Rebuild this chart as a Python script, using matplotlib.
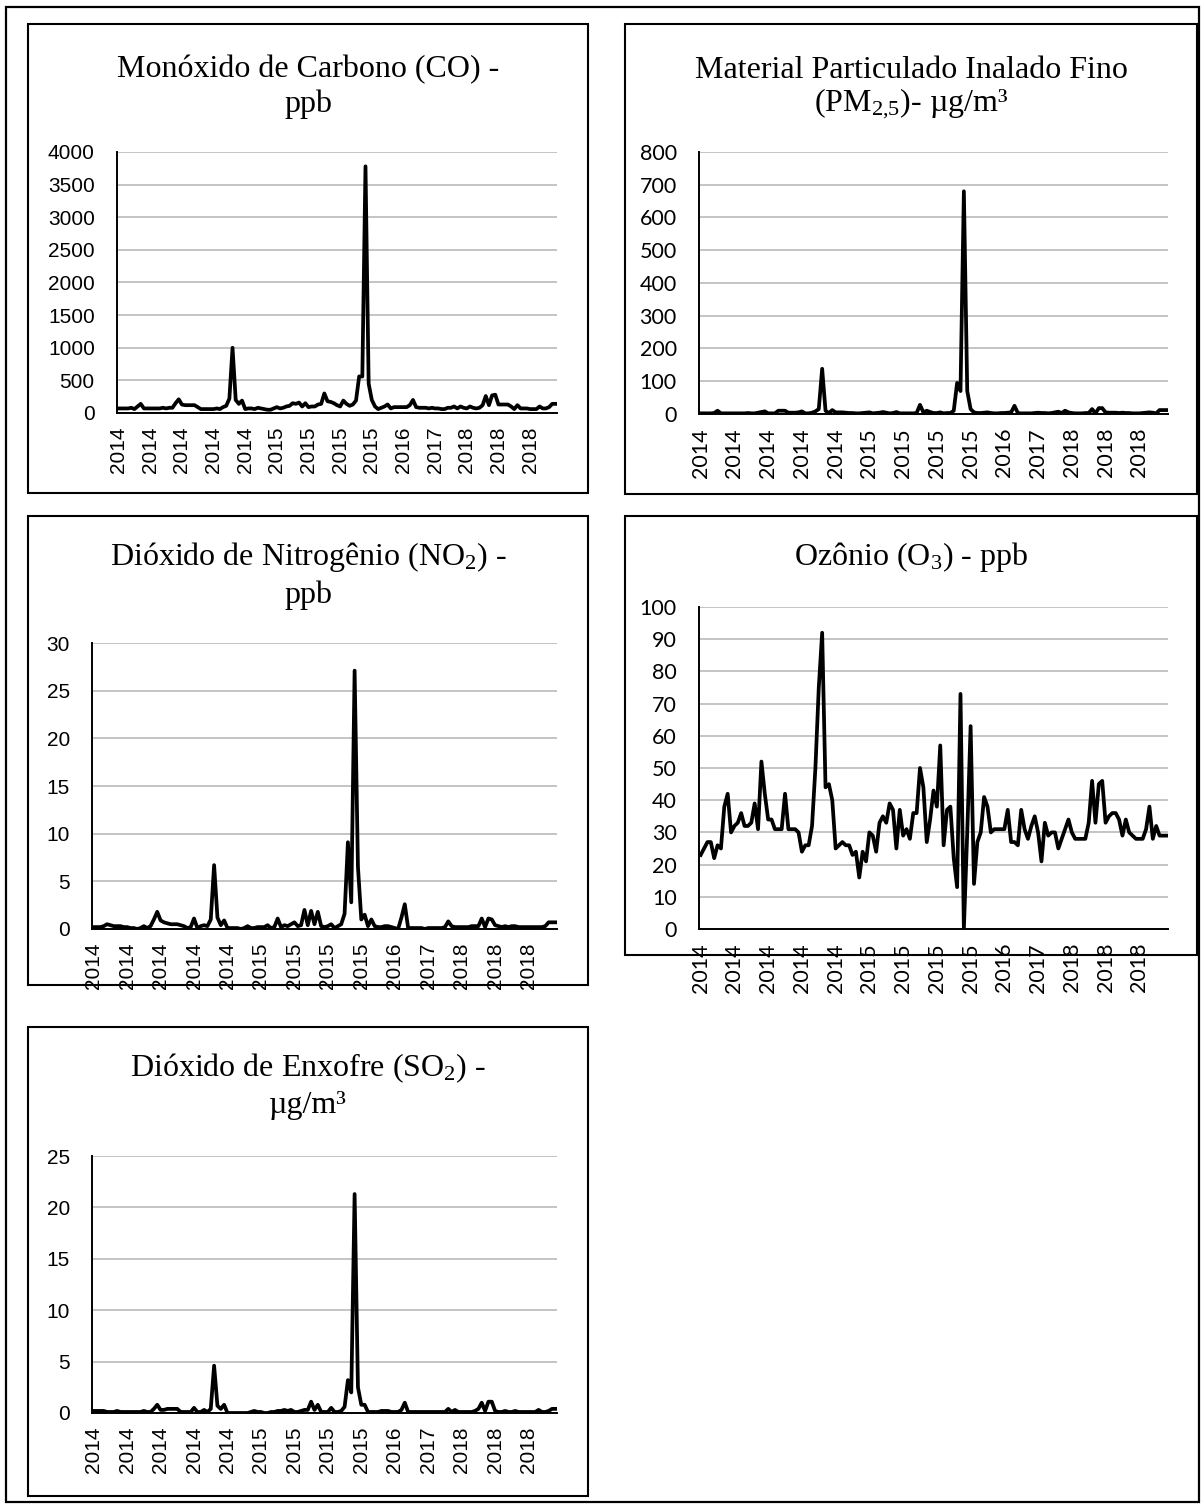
import matplotlib.pyplot as plt
from matplotlib.patches import Rectangle

plt.rcParams['mathtext.fontset'] = 'custom'
plt.rcParams['mathtext.rm'] = 'Liberation Serif'
plt.rcParams['mathtext.it'] = 'Liberation Serif:italic'

# categories (one per sample, labels every 10 samples)
n_pts = 139
tick_pos = list(range(0, n_pts, 10))
tick_labels = ['2014'] * 5 + ['2015'] * 4 + ['2016', '2017'] + ['2018'] * 3

co = [70, 70, 70, 70, 80, 60, 100, 140, 70, 70,
      70, 70, 70, 70, 80, 70, 80, 80, 150, 210,
      130, 120, 120, 120, 120, 90, 60, 60, 60, 60,
      60, 70, 60, 90, 110, 220, 1000, 200, 140, 190,
      60, 70, 70, 60, 80, 70, 60, 50, 50, 70,
      90, 70, 80, 100, 110, 150, 140, 160, 100, 150,
      90, 100, 100, 130, 140, 300, 180, 170, 150, 120,
      100, 190, 140, 110, 130, 190, 560, 560, 3780, 450,
      200, 100, 60, 80, 100, 130, 70, 90, 90, 90,
      90, 90, 120, 200, 90, 80, 80, 80, 70, 80,
      70, 70, 60, 60, 80, 80, 100, 70, 100, 80,
      70, 100, 80, 70, 80, 120, 260, 120, 270, 280,
      130, 130, 130, 130, 100, 60, 120, 70, 70, 70,
      60, 60, 60, 100, 70, 70, 90, 140, 140]

pm25 = [2, 2, 2, 2, 3, 10, 2, 2, 2, 2,
        2, 2, 2, 2, 3, 2, 2, 4, 6, 8,
        2, 2, 2, 10, 10, 10, 4, 4, 4, 5,
        8, 2, 2, 4, 8, 15, 138, 10, 3, 12,
        5, 5, 5, 4, 3, 3, 2, 2, 3, 4,
        5, 2, 3, 4, 6, 4, 2, 3, 6, 2,
        2, 2, 2, 2, 3, 28, 5, 10, 6, 3,
        3, 5, 2, 3, 3, 10, 95, 70, 680, 70,
        15, 5, 3, 3, 4, 5, 3, 2, 2, 3,
        3, 4, 5, 25, 3, 2, 2, 2, 2, 3,
        4, 3, 3, 2, 3, 5, 7, 3, 10, 5,
        3, 2, 2, 2, 3, 3, 15, 2, 18, 18,
        5, 4, 4, 4, 3, 4, 3, 3, 2, 2,
        2, 3, 4, 5, 4, 2, 12, 12, 12]

no2 = [0.2, 0.2, 0.2, 0.3, 0.5, 0.4, 0.3, 0.3, 0.3, 0.2,
       0.2, 0.1, 0.1, 0.0, 0.1, 0.3, 0.1, 0.3, 1.0, 1.8,
       0.9, 0.7, 0.6, 0.5, 0.5, 0.5, 0.4, 0.3, 0.1, 0.2,
       1.1, 0.1, 0.3, 0.4, 0.3, 1.0, 6.7, 1.2, 0.4, 0.9,
       0.1, 0.1, 0.1, 0.1, 0.0, 0.1, 0.3, 0.1, 0.1, 0.2,
       0.2, 0.2, 0.4, 0.1, 0.2, 1.1, 0.2, 0.4, 0.3, 0.5,
       0.7, 0.3, 0.4, 2.0, 0.4, 1.9, 0.5, 1.8, 0.3, 0.2,
       0.3, 0.5, 0.1, 0.3, 0.5, 1.6, 9.1, 2.8, 27.1, 6.5,
       1.0, 1.5, 0.3, 1.0, 0.3, 0.2, 0.2, 0.3, 0.3, 0.2,
       0.1, 0.0, 1.2, 2.6, 0.1, 0.1, 0.1, 0.1, 0.1, 0.0,
       0.1, 0.1, 0.1, 0.1, 0.1, 0.2, 0.8, 0.3, 0.2, 0.2,
       0.2, 0.2, 0.2, 0.3, 0.3, 0.3, 1.1, 0.2, 1.1, 1.0,
       0.4, 0.3, 0.2, 0.3, 0.2, 0.3, 0.3, 0.2, 0.2, 0.2,
       0.2, 0.2, 0.2, 0.2, 0.2, 0.3, 0.7, 0.7, 0.7]

o3 = [23, 25, 27, 27, 22, 26, 25, 38, 42, 30,
      32, 33, 36, 32, 32, 33, 39, 31, 52, 42,
      34, 34, 31, 31, 31, 42, 31, 31, 31, 30,
      24, 26, 26, 32, 50, 75, 92, 44, 45, 40,
      25, 26, 27, 26, 26, 23, 24, 16, 24, 21,
      30, 29, 24, 33, 35, 33, 39, 37, 25, 37,
      29, 31, 28, 36, 36, 50, 44, 27, 34, 43,
      38, 57, 26, 37, 38, 22, 13, 73, 0, 30,
      63, 14, 27, 30, 41, 38, 30, 31, 31, 31,
      31, 37, 27, 27, 26, 37, 31, 28, 32, 35,
      30, 21, 33, 29, 30, 30, 25, 28, 31, 34,
      30, 28, 28, 28, 28, 33, 46, 33, 45, 46,
      33, 35, 36, 36, 34, 29, 34, 30, 29, 28,
      28, 28, 31, 38, 28, 32, 29, 29, 29]

so2 = [0.2, 0.2, 0.2, 0.2, 0.1, 0.1, 0.1, 0.2, 0.1, 0.1,
       0.1, 0.1, 0.1, 0.1, 0.1, 0.2, 0.1, 0.1, 0.4, 0.8,
       0.3, 0.3, 0.4, 0.4, 0.4, 0.4, 0.1, 0.1, 0.1, 0.1,
       0.5, 0.1, 0.1, 0.3, 0.1, 0.4, 4.6, 0.7, 0.4, 0.8,
       0.0, 0.0, 0.0, 0.0, 0.0, 0.0, 0.0, 0.1, 0.2, 0.1,
       0.1, 0.0, 0.0, 0.1, 0.1, 0.2, 0.2, 0.3, 0.2, 0.3,
       0.1, 0.1, 0.2, 0.3, 0.3, 1.1, 0.3, 0.8, 0.1, 0.1,
       0.1, 0.5, 0.1, 0.1, 0.2, 0.6, 3.2, 2.0, 21.3, 2.5,
       0.8, 0.8, 0.1, 0.1, 0.1, 0.1, 0.2, 0.2, 0.2, 0.1,
       0.1, 0.1, 0.3, 1.0, 0.1, 0.1, 0.1, 0.1, 0.1, 0.1,
       0.1, 0.1, 0.1, 0.1, 0.1, 0.1, 0.4, 0.1, 0.3, 0.1,
       0.1, 0.1, 0.1, 0.1, 0.2, 0.4, 1.0, 0.2, 1.1, 1.1,
       0.2, 0.1, 0.1, 0.2, 0.1, 0.1, 0.2, 0.1, 0.1, 0.1,
       0.1, 0.1, 0.1, 0.3, 0.1, 0.1, 0.2, 0.4, 0.4]

W, H = 1203, 1506
fig = plt.figure(figsize=(W / 100, H / 100), dpi=100)


def box(x0, y0, x1, y1, lw=1.5):
    fig.patches.append(Rectangle((x0 / W, 1 - y1 / H), (x1 - x0) / W, (y1 - y0) / H,
                                 transform=fig.transFigure, fill=False,
                                 edgecolor='black', linewidth=lw))


def title(lines, xc, ys):
    for s, y in zip(lines, ys):
        fig.text(xc / W, 1 - y / H, s, ha='center', va='center',
                 family='Liberation Serif', fontsize=23)


def panel(x0, y0, x1, y1, vals, ymax, ystep, tick_font, tick_size):
    ax = fig.add_axes([x0 / W, 1 - y1 / H, (x1 - x0) / W, (y1 - y0) / H])
    ax.plot(range(len(vals)), vals, color='black', lw=2.7, solid_joinstyle='round')
    ax.set_xlim(-0.5, len(vals) - 0.5)
    ax.set_ylim(0, ymax)
    ax.set_yticks([ystep * k for k in range(int(round(ymax / ystep)) + 1)])
    ax.set_xticks(tick_pos)
    ax.set_xticklabels(tick_labels, rotation=90)
    ax.grid(axis='y', color='#c4c4c4', lw=1.4)
    ax.set_axisbelow(True)
    for s in ['top', 'right']:
        ax.spines[s].set_visible(False)
    for s in ['left', 'bottom']:
        ax.spines[s].set_linewidth(1.4)
    ax.tick_params(axis='y', length=0, pad=16)
    ax.tick_params(axis='x', length=0, pad=10)
    for lab in ax.get_xticklabels() + ax.get_yticklabels():
        lab.set_family(tick_font)
        lab.set_fontsize(tick_size)
    return ax


# outer frame and panel frames
box(6, 7, 1199, 1502, lw=1.6)
box(28, 24, 588, 493)
box(625, 24, 1197, 494)
box(28, 516, 588, 985)
box(625, 516, 1197, 955)
box(28, 1027, 588, 1496)

title(['Monóxido de Carbono (CO) -', 'ppb'], 308, [70, 104])
panel(117, 152, 557, 413, co, 4000, 500, 'Liberation Sans', 15)

title(['Material Particulado Inalado Fino', r'(PM$_\mathrm{2{,}5}$)- µg/m³'], 911, [70, 104])
panel(699, 152, 1168, 414, pm25, 800, 100, 'Lato', 15.5)

title([r'Dióxido de Nitrogênio (NO$_\mathrm{2}$) -', 'ppb'], 308, [557, 595])
panel(92, 643, 557, 929, no2, 30, 5, 'Liberation Sans', 15)

title([r'Ozônio (O$_\mathrm{3}$) - ppb'], 911, [557])
panel(699, 607, 1168, 929, o3, 100, 10, 'Lato', 15.5)

title([r'Dióxido de Enxofre (SO$_\mathrm{2}$) -', 'µg/m³'], 308, [1068, 1106])
panel(92, 1156, 557, 1413, so2, 25, 5, 'Liberation Sans', 15)

fig.savefig('out.png', dpi=100)
